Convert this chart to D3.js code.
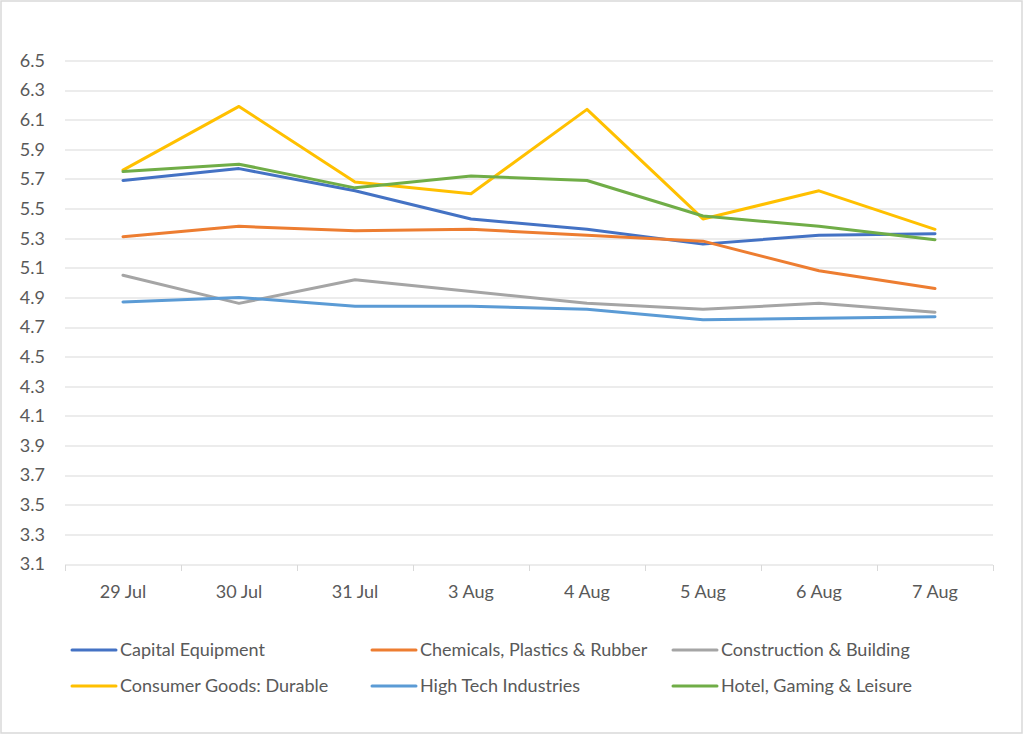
<!DOCTYPE html>
<html>
<head>
<meta charset="utf-8">
<script src="https://cdn.jsdelivr.net/npm/d3@7"></script>
<style>
  body { margin: 0; background: #fff; }
  svg text { font-family: Lato, "Open Sans", sans-serif; fill: #595959; }
</style>
</head>
<body>
<div class="chart"></div>
<script>
// categories (x axis)
const dates = ['29 Jul', '30 Jul', '31 Jul', '3 Aug', '4 Aug', '5 Aug', '6 Aug', '7 Aug'];

// series
const capitalEquipment = [5.69, 5.77, 5.62, 5.43, 5.36, 5.26, 5.32, 5.33];
const chemicals = [5.31, 5.38, 5.35, 5.36, 5.32, 5.28, 5.08, 4.96];
const construction = [5.05, 4.86, 5.02, 4.94, 4.86, 4.82, 4.86, 4.80];
const consumerDurable = [5.76, 6.19, 5.68, 5.60, 6.17, 5.43, 5.62, 5.36];
const highTech = [4.87, 4.90, 4.84, 4.84, 4.82, 4.75, 4.76, 4.77];
const hotelGaming = [5.75, 5.80, 5.64, 5.72, 5.69, 5.45, 5.38, 5.29];

const seriesNames = ['Capital Equipment', 'Chemicals, Plastics & Rubber', 'Construction & Building',
  'Consumer Goods: Durable', 'High Tech Industries', 'Hotel, Gaming & Leisure'];
const seriesColors = ['#4472C4', '#ED7D31', '#A5A5A5', '#FFC000', '#5B9BD5', '#70AD47'];

// y tick labels
const yTicks = [6.5, 6.3, 6.1, 5.9, 5.7, 5.5, 5.3, 5.1, 4.9, 4.7, 4.5, 4.3, 4.1, 3.9, 3.7, 3.5, 3.3, 3.1];

const series = [capitalEquipment, chemicals, construction, consumerDurable, highTech, hotelGaming]
  .map((values, i) => ({ name: seriesNames[i], color: seriesColors[i], values: values }));

const W = 1024, H = 735;
const margin = { top: 60.5, right: 31, bottom: 171, left: 65 };
const width = W - margin.left - margin.right;
const height = H - margin.top - margin.bottom;
const fontSize = '18px';

const svg = d3.select('.chart').append('svg')
  .attr('width', W)
  .attr('height', H);

//outer frame
svg.append('rect')
  .attr('x', 1).attr('y', 1)
  .attr('width', W - 3).attr('height', H - 3)
  .attr('fill', 'none')
  .attr('stroke', '#d9d9d9')
  .attr('stroke-width', 1.5);

const g = svg.append('g').attr('transform', `translate(${margin.left}, ${margin.top})`);

const x = d3.scaleBand().domain(dates).range([0, width]);
const y = d3.scaleLinear().domain([3.1, 6.5]).range([height, 0]);

//gridlines
g.append('g')
  .selectAll('line')
  .data(yTicks.filter(d => d > 3.1))
  .enter().append('line')
  .attr('x1', 0).attr('x2', width)
  .attr('y1', d => Math.round(y(d)) + 0.5)
  .attr('y2', d => Math.round(y(d)) + 0.5)
  .attr('stroke', '#d9d9d9')
  .attr('stroke-width', 1);

//y labels
g.append('g')
  .selectAll('text')
  .data(yTicks)
  .enter().append('text')
  .attr('x', -20)
  .attr('y', d => y(d))
  .attr('dy', '0.35em')
  .attr('text-anchor', 'end')
  .style('font-size', fontSize)
  .text(d => d.toFixed(1));

//x axis
const xAxis = g.append('g').attr('transform', `translate(0, ${Math.round(height) + 0.5})`);
xAxis.append('line')
  .attr('x1', 0).attr('x2', width)
  .attr('stroke', '#d9d9d9');
xAxis.selectAll('.tickmark')
  .data(dates.concat(['end']))
  .enter().append('line')
  .attr('class', 'tickmark')
  .attr('x1', (d, i) => Math.round(i * x.bandwidth()) + 0.5)
  .attr('x2', (d, i) => Math.round(i * x.bandwidth()) + 0.5)
  .attr('y1', 0).attr('y2', 6)
  .attr('stroke', '#d9d9d9');
xAxis.selectAll('text')
  .data(dates)
  .enter().append('text')
  .attr('x', d => x(d) + x.bandwidth() / 2)
  .attr('y', 33)
  .attr('text-anchor', 'middle')
  .style('font-size', fontSize)
  .text(d => d);

//lines
const line = d3.line()
  .x((d, i) => x(dates[i]) + x.bandwidth() / 2)
  .y(d => y(d));

g.append('g')
  .selectAll('path')
  .data(series)
  .enter().append('path')
  .attr('d', d => line(d.values))
  .attr('fill', 'none')
  .attr('stroke', d => d.color)
  .attr('stroke-width', 3)
  .attr('stroke-linejoin', 'round')
  .attr('stroke-linecap', 'round');

//legend, 3 columns x 2 rows
const legendCols = [72, 372, 673];
const legendRows = [650, 686];
const legend = svg.append('g')
  .selectAll('g')
  .data(series)
  .enter().append('g')
  .attr('transform', (d, i) => `translate(${legendCols[i % 3]}, ${legendRows[Math.floor(i / 3)]})`);

legend.append('line')
  .attr('x1', 0).attr('x2', 44)
  .attr('stroke', d => d.color)
  .attr('stroke-width', 3)
  .attr('stroke-linecap', 'round');

legend.append('text')
  .attr('x', 48)
  .attr('dy', '0.35em')
  .style('font-size', fontSize)
  .text(d => d.name);
</script>
</body>
</html>
